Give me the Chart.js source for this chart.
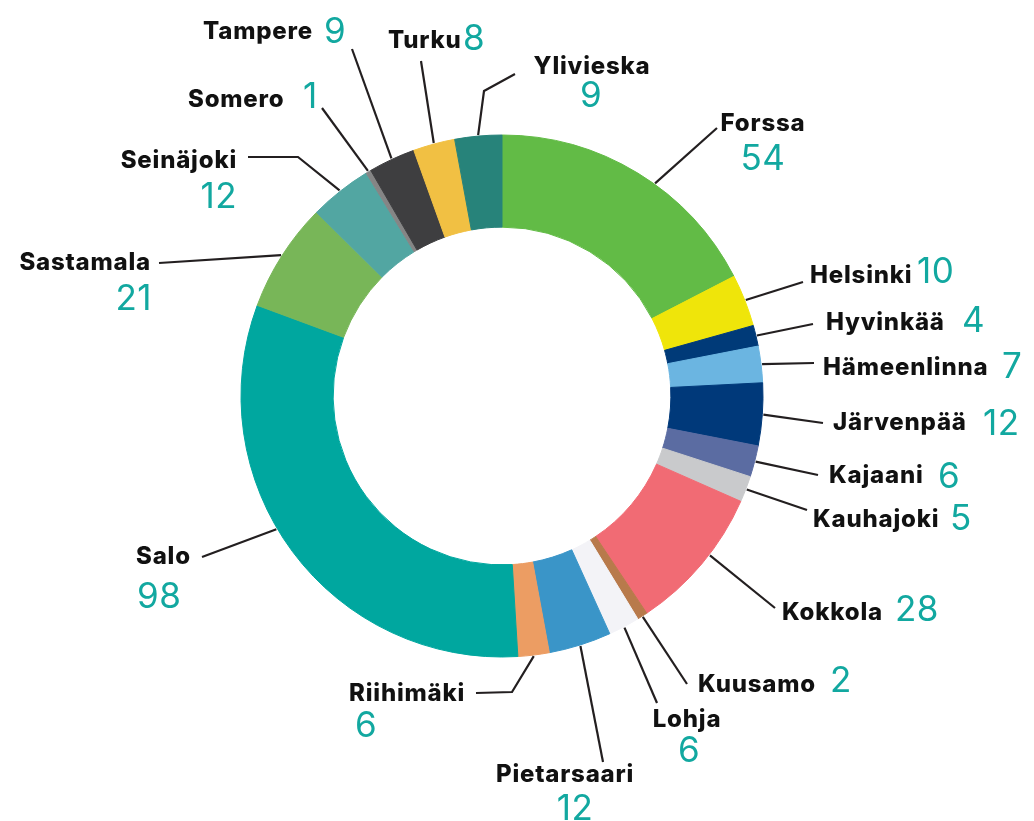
<!DOCTYPE html>
<html>
<head>
<meta charset="utf-8">
<script src="https://cdn.jsdelivr.net/npm/chart.js@4"></script>
<style>
  html, body { margin: 0; padding: 0; background: #ffffff; }
  #wrap { width: 1034px; height: 821px; position: relative; }
</style>
</head>
<body>
<div id="wrap"><canvas id="c" width="1034" height="821"></canvas></div>
<script>
// ---- data ----
const categories = ['Forssa','Helsinki','Hyvinkää','Hämeenlinna','Järvenpää','Kajaani','Kauhajoki','Kokkola','Kuusamo','Lohja','Pietarsaari','Riihimäki','Salo','Sastamala','Seinäjoki','Somero','Tampere','Turku','Ylivieska'];
const values = [54, 10, 4, 7, 12, 6, 5, 28, 2, 6, 12, 6, 98, 21, 12, 1, 9, 8, 9];
const colors = ['#62BB46','#EFE50A','#003A78','#6BB5E1','#00397A','#5B6CA2','#C9CACC','#F16B74','#B87A4B','#F3F3F7','#3A95C8','#EC9D63','#00A79F','#78B658','#52A6A2','#858585','#3E3E40','#F1C043','#27837A'];

// ---- label layout (annotation placement only) ----
// frac: where along the arc the leader starts; line: points from ring outward;
// name/num: [x, baselineY, align]
const labelLayout = {
  'Forssa':      {frac:0.57, line:[[717,128]],           name:[763,131,'center'], num:[763,170,'center']},
  'Helsinki':    {line:[[803,282]],                      name:[810,283,'left'],   num:[917,283,'left']},
  'Hyvinkää':    {line:[[813,324]],                      name:[826,330,'left'],   num:[962,332,'left']},
  'Hämeenlinna': {line:[[814,363]],                      name:[823,375,'left'],   num:[1002,378,'left']},
  'Järvenpää':   {line:[[823,423]],                      name:[833,430,'left'],   num:[983,435,'left']},
  'Kajaani':     {line:[[818,475]],                      name:[829,483,'left'],   num:[938,488,'left']},
  'Kauhajoki':   {line:[[807,510]],                      name:[813,527,'left'],   num:[950,530,'left']},
  'Kokkola':     {frac:0.42, line:[[775,608]],           name:[782,620,'left'],   num:[895,621,'left']},
  'Kuusamo':     {line:[[687,684]],                      name:[698,692,'left'],   num:[830,692,'left']},
  'Lohja':       {line:[[657,703]],                      name:[687,727,'center'], num:[689,762,'center']},
  'Pietarsaari': {line:[[603,762]],                      name:[565,782,'center'], num:[575,820,'center']},
  'Riihimäki':   {line:[[512,692],[476,693]],            name:[349,701,'left'],   num:[355,737,'left']},
  'Salo':        {frac:0.553, line:[[202,557]],          name:[136,564,'left'],   num:[137,608,'left']},
  'Sastamala':   {line:[[159,263]],                      name:[151,270,'right'],  num:[152,310,'right']},
  'Seinäjoki':   {line:[[298,157],[248,157]],            name:[237,168,'right'],  num:[237,208,'right']},
  'Somero':      {line:[[322,108]],                      name:[188,107,'left'],   num:[303,108,'left']},
  'Tampere':     {line:[[352,49]],                       name:[203,39,'left'],    num:[324,43,'left']},
  'Turku':       {line:[[421,61]],                       name:[388,48,'left'],    num:[463,50,'left']},
  'Ylivieska':   {line:[[484,91],[515,74]],              name:[592,74,'center'],  num:[591,107,'center']}
};

const NAME_FONT = '800 24px Inter, "DejaVu Sans", sans-serif';
const NUM_FONT = '400 35px Inter, "DejaVu Sans", sans-serif';
const NAME_COLOR = '#111111';
const NUM_COLOR = '#12A8A0';
const LINE_COLOR = '#231F20';

const leaderPlugin = {
  id: 'leaders',
  afterDatasetsDraw(chart) {
    const ctx = chart.ctx;
    const meta = chart.getDatasetMeta(0);
    ctx.save();
    meta.data.forEach((arc, i) => {
      const name = chart.data.labels[i];
      const lay = labelLayout[name];
      if (!lay) return;
      const p = arc.getProps(['x','y','startAngle','endAngle','outerRadius'], true);
      const frac = lay.frac !== undefined ? lay.frac : 0.5;
      const a = p.startAngle + (p.endAngle - p.startAngle) * frac;
      const sx = p.x + Math.cos(a) * (p.outerRadius + 1);
      const sy = p.y + Math.sin(a) * (p.outerRadius + 1);
      ctx.beginPath();
      ctx.moveTo(sx, sy);
      lay.line.forEach(pt => ctx.lineTo(pt[0], pt[1]));
      ctx.strokeStyle = LINE_COLOR;
      ctx.lineWidth = 2.2;
      ctx.lineJoin = 'miter';
      ctx.lineCap = 'butt';
      ctx.stroke();

      ctx.textBaseline = 'alphabetic';
      ctx.font = NAME_FONT;
      ctx.fillStyle = NAME_COLOR;
      if ('letterSpacing' in ctx) ctx.letterSpacing = '0.8px';
      ctx.textAlign = lay.name[2];
      ctx.fillText(name, lay.name[0], lay.name[1]);

      ctx.font = NUM_FONT;
      ctx.fillStyle = NUM_COLOR;
      if ('letterSpacing' in ctx) ctx.letterSpacing = '0.5px';
      ctx.textAlign = lay.num[2];
      ctx.fillText(String(chart.data.datasets[0].data[i]), lay.num[0], lay.num[1]);
    });
    ctx.restore();
  }
};

new Chart(document.getElementById('c'), {
  type: 'doughnut',
  data: {
    labels: categories,
    datasets: [{
      data: values,
      backgroundColor: colors,
      borderColor: colors,
      borderWidth: 1,
      hoverOffset: 0,
      offset: 0
    }]
  },
  options: {
    responsive: false,
    devicePixelRatio: 1,
    animation: false,
    radius: 261,
    cutout: '64.7%',
    rotation: 0,
    layout: { padding: { left: 241, right: 271, top: 135, bottom: 164 } },
    plugins: {
      legend: { display: false },
      tooltip: { enabled: false }
    }
  },
  plugins: [leaderPlugin]
});
</script>
</body>
</html>
